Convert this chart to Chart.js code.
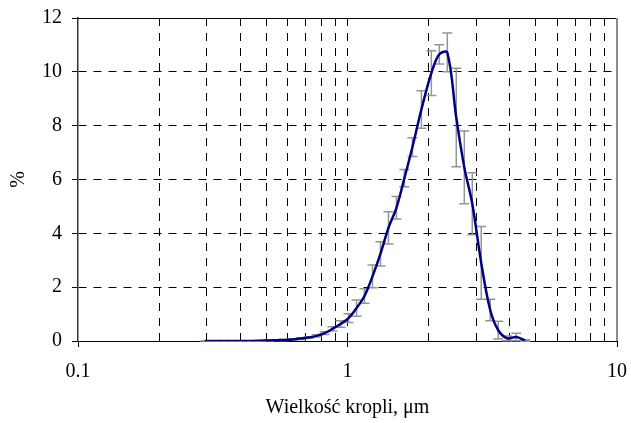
<!DOCTYPE html>
<html>
<head>
<meta charset="utf-8">
<script src="https://cdn.jsdelivr.net/npm/chart.js@4.4.1/dist/chart.umd.min.js"></script>
<style>
  html, body { margin: 0; padding: 0; background: #fff; }
  #wrap { width: 631px; height: 423px; }
</style>
</head>
<body>
<div id="wrap"><canvas id="chart"></canvas></div>
<script>
// droplet size distribution: mean % per size class, with std. deviation bars
const sizes = [0.295, 0.316, 0.339, 0.362, 0.388, 0.415, 0.445, 0.476, 0.510, 0.546,
               0.584, 0.626, 0.670, 0.717, 0.768, 0.822, 0.880, 0.942, 1.009, 1.080,
               1.156, 1.238, 1.325, 1.419, 1.519, 1.626, 1.741, 1.880, 2.047, 2.191,
               2.346, 2.533, 2.713, 2.904, 3.135, 3.385, 3.625, 3.913, 4.226, 4.563];
const percent = [0, 0, 0, 0, 0, 0, 0, 0.01, 0.02, 0.03,
                 0.04, 0.06, 0.09, 0.13, 0.19, 0.29, 0.45, 0.63, 0.85, 1.22,
                 1.67, 2.4, 3.24, 4.2, 4.95, 6.05, 7.2, 8.6, 9.95, 10.65,
                 10.72, 8.3, 6.45, 5.1, 2.9, 1.15, 0.4, 0.1, 0.15, 0.02];
const deviation = [0, 0, 0, 0, 0, 0, 0, 0.01, 0.01, 0.01,
                   0.02, 0.02, 0.03, 0.03, 0.04, 0.05, 0.08, 0.12, 0.16, 0.3,
                   0.27, 0.42, 0.45, 0.6, 0.42, 0.32, 0.35, 0.7, 0.83, 0.36,
                   0.72, 1.83, 1.35, 1.15, 1.35, 0.4, 0.33, 0.09, 0.14, 0.03];

const xTicks = [0.1, 0.2, 0.3, 0.4, 0.5, 0.6, 0.7, 0.8, 0.9,
                1, 2, 3, 4, 5, 6, 7, 8, 9, 10];
const xLabels = [0.1, 1, 10];
const yTicks = [0, 2, 4, 6, 8, 10, 12];

const serif = "'Liberation Serif', 'Times New Roman', serif";
Chart.defaults.font.family = serif;
Chart.defaults.color = "#000";

// gray std. deviation bars, under the curve
const errorBars = {
    id: "errorBars",
    beforeDatasetsDraw(chart) {
        const ctx = chart.ctx;
        const xs = chart.scales.x, ys = chart.scales.y;
        ctx.save();
        ctx.strokeStyle = "#959595";
        ctx.lineWidth = 1.5;
        sizes.forEach((s, i) => {
            const px = xs.getPixelForValue(s);
            const top = ys.getPixelForValue(percent[i] + deviation[i]);
            const bot = ys.getPixelForValue(percent[i] - deviation[i]);
            ctx.beginPath();
            ctx.moveTo(px, top); ctx.lineTo(px, bot);
            ctx.moveTo(px - 5, top); ctx.lineTo(px + 5, top);
            ctx.moveTo(px - 5, bot); ctx.lineTo(px + 5, bot);
            ctx.stroke();
        });
        ctx.restore();
    }
};

// solid top edge and gray right edge of the plot
const frame = {
    id: "frame",
    beforeDatasetsDraw(chart) {
        const {ctx, chartArea: a} = chart;
        ctx.save();
        ctx.lineWidth = 1;
        ctx.strokeStyle = "#000";
        ctx.beginPath();
        ctx.moveTo(a.left, a.top + 0.5); ctx.lineTo(a.right, a.top + 0.5);
        ctx.stroke();
        ctx.lineWidth = 2;
        ctx.strokeStyle = "#8a8a8a";
        ctx.beginPath();
        ctx.moveTo(a.right, a.top); ctx.lineTo(a.right, a.bottom);
        ctx.stroke();
        ctx.restore();
    }
};

new Chart(document.getElementById("chart"), {
    type: "line",
    data: {
        datasets: [{
            data: sizes.map((s, i) => ({x: s, y: percent[i]})),
            borderColor: "#000080",
            borderWidth: 2.5,
            pointRadius: 0,
            tension: 0.35,
            fill: false
        }]
    },
    options: {
        responsive: true,
        maintainAspectRatio: false,
        animation: false,
        layout: {padding: {left: 0, right: 14, top: 18, bottom: 0}},
        plugins: {legend: {display: false}, tooltip: {enabled: false}},
        scales: {
            x: {
                type: "logarithmic",
                min: 0.1,
                max: 10,
                afterBuildTicks: s => { s.ticks = xTicks.map(v => ({value: v})); },
                afterFit: s => {
                    s.height = 82;
                    s.paddingLeft = 0;
                    s.paddingRight = 0;
                },
                ticks: {
                    autoSkip: false,
                    maxRotation: 0,
                    padding: 13,
                    font: {size: 20},
                    callback: v => xLabels.includes(v) ? String(v) : ""
                },
                grid: {
                    color: c => (c.tick && (c.tick.value === 0.1 || c.tick.value === 10)) ? "rgba(0,0,0,0)" : "#000",
                    tickColor: c => (c.tick && xLabels.includes(c.tick.value)) ? "#000" : "rgba(0,0,0,0)",
                    tickLength: 6,
                    lineWidth: 1
                },
                border: {color: "#000", width: 1, dash: [8, 7]},
                title: {display: true, text: "Wielkość kropli, μm", font: {size: 20}, padding: {top: 0, bottom: 3}}
            },
            y: {
                min: 0,
                max: 12,
                afterBuildTicks: s => { s.ticks = yTicks.map(v => ({value: v})); },
                afterFit: s => {
                    s.width = 78;
                    s.paddingTop = 0;
                    s.paddingBottom = 0;
                },
                ticks: {padding: 10, font: {size: 20}},
                grid: {
                    color: c => (c.tick && (c.tick.value === 0 || c.tick.value === 12)) ? "rgba(0,0,0,0)" : "#000",
                    tickColor: "#000",
                    tickLength: 6,
                    lineWidth: 1
                },
                border: {color: "#333", width: 1.5, dash: [8, 7]},
                title: {display: true, text: "%", font: {size: 20}, padding: {top: 7, bottom: 0}}
            }
        }
    },
    plugins: [errorBars, frame]
});
</script>
</body>
</html>
